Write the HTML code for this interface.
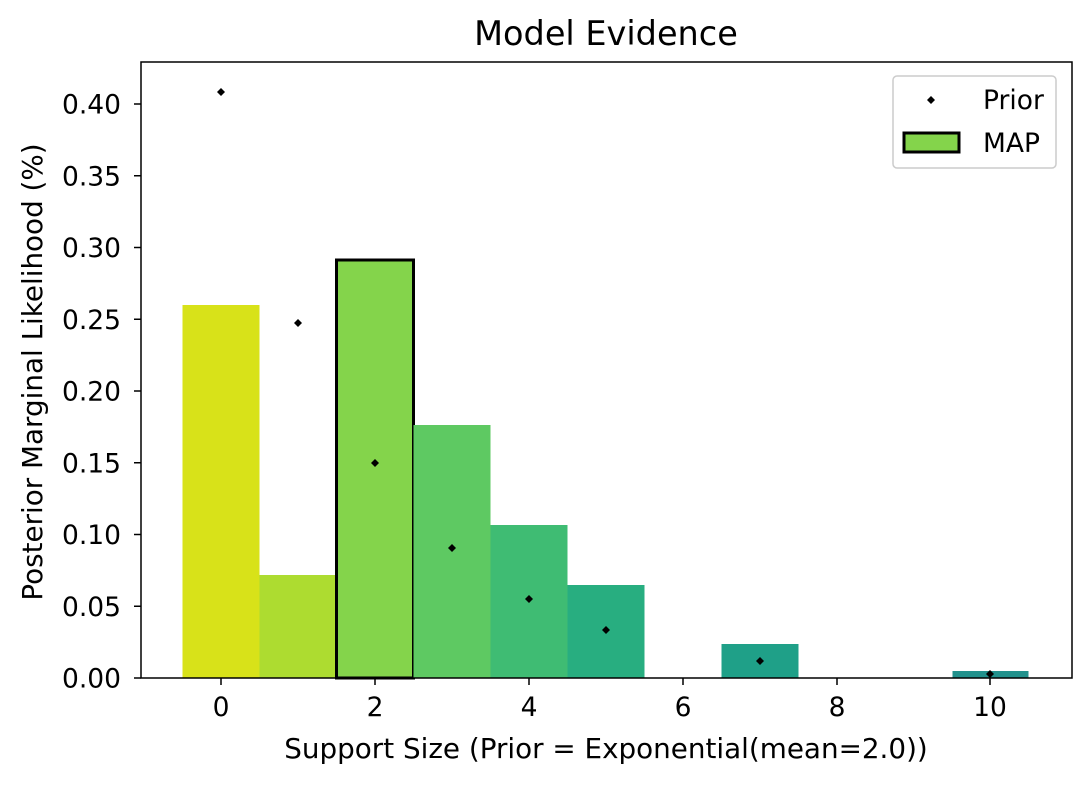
<!DOCTYPE html>
<html><head><style>body{margin:0;background:#fff}svg{display:block}text{font-family:"DejaVu Sans","Liberation Sans",sans-serif;fill:#000}</style></head><body>
<svg width="1090" height="785" xmlns="http://www.w3.org/2000/svg">
<rect width="1090" height="785" fill="#fff"/>
<g>
<rect x="182.5" y="305" width="77" height="373" fill="#d8e219"/>
<rect x="259.5" y="575" width="77" height="103" fill="#addc30"/>
<rect x="336.5" y="260" width="77" height="418" fill="#84d44b" stroke="#000" stroke-width="3"/>
<rect x="413.5" y="425" width="77" height="253" fill="#5ec962"/>
<rect x="490.5" y="525" width="77" height="153" fill="#3fbc73"/>
<rect x="567.5" y="585" width="77" height="93" fill="#28ae80"/>
<rect x="721.5" y="644" width="77" height="34" fill="#1fa088"/>
<rect x="952.5" y="671" width="76" height="7" fill="#21918c"/>
</g>
<g fill="#000">
<path d="M221 88l4 4-4 4-4-4z"/>
<path d="M298 319l4 4-4 4-4-4z"/>
<path d="M375 459l4 4-4 4-4-4z"/>
<path d="M452 544l4 4-4 4-4-4z"/>
<path d="M529 595l4 4-4 4-4-4z"/>
<path d="M606 626l4 4-4 4-4-4z"/>
<path d="M760 657l4 4-4 4-4-4z"/>
<path d="M990 670l4 4-4 4-4-4z"/>
</g>
<rect x="141" y="62" width="931" height="616" fill="none" stroke="#000" stroke-width="1.5"/>
<g stroke="#000" stroke-width="1.5">
<line x1="221" y1="678" x2="221" y2="685"/><line x1="375" y1="678" x2="375" y2="685"/><line x1="529" y1="678" x2="529" y2="685"/><line x1="683" y1="678" x2="683" y2="685"/><line x1="837" y1="678" x2="837" y2="685"/><line x1="990" y1="678" x2="990" y2="685"/>
<line x1="134" y1="678" x2="141" y2="678"/><line x1="134" y1="606.25" x2="141" y2="606.25"/><line x1="134" y1="534.5" x2="141" y2="534.5"/><line x1="134" y1="462.75" x2="141" y2="462.75"/><line x1="134" y1="391" x2="141" y2="391"/><line x1="134" y1="319.25" x2="141" y2="319.25"/><line x1="134" y1="247.5" x2="141" y2="247.5"/><line x1="134" y1="175.75" x2="141" y2="175.75"/><line x1="134" y1="104" x2="141" y2="104"/>
</g>
<g font-size="26.5" text-anchor="middle">
<text x="221" y="716">0</text><text x="375" y="716">2</text><text x="529" y="716">4</text><text x="683" y="716">6</text><text x="837" y="716">8</text><text x="990" y="716">10</text>
</g>
<g font-size="26.5" text-anchor="end">
<text x="121" y="687.5">0.00</text><text x="121" y="615.75">0.05</text><text x="121" y="544">0.10</text><text x="121" y="472.25">0.15</text><text x="121" y="400.5">0.20</text><text x="121" y="328.75">0.25</text><text x="121" y="257">0.30</text><text x="121" y="185.25">0.35</text><text x="121" y="113.5">0.40</text>
</g>
<text x="606" y="758" font-size="27.8" text-anchor="middle">Support Size (Prior = Exponential(mean=2.0))</text>
<text x="42" y="372" font-size="27.8" text-anchor="middle" transform="rotate(-90 42 372)">Posterior Marginal Likelihood (%)</text>
<text x="606" y="45" font-size="33.5" text-anchor="middle">Model Evidence</text>
<rect x="893" y="76" width="163" height="92" fill="#fff" stroke="#ccc" stroke-width="1.5" rx="4"/>
<path d="M931 96l4 4-4 4-4-4z" fill="#000"/>
<text x="983" y="109" font-size="26.5">Prior</text>
<rect x="904" y="133" width="55" height="19" fill="#84d44b" stroke="#000" stroke-width="3"/>
<text x="983" y="152" font-size="26.5">MAP</text>
</svg>
</body></html>
